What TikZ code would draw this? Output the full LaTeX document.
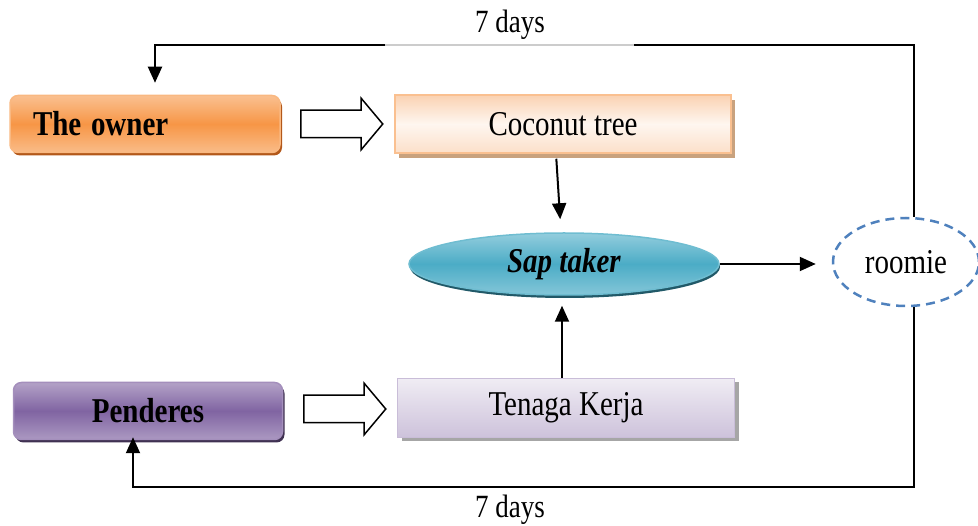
\documentclass[tikz,border=0pt]{standalone}
\usepackage{fontspec}
\setmainfont{Liberation Serif}
\usetikzlibrary{arrows.meta, shapes.geometric, shapes.arrows, shadows}

\definecolor{ownermid}{HTML}{F79646}
\definecolor{ownerlight}{HTML}{FAC090}
\definecolor{ownershadow}{HTML}{B3581A}
\definecolor{cocoedge}{HTML}{FAC090}
\definecolor{cocotop}{HTML}{FAD2B2}
\definecolor{cocoshadow}{HTML}{C9A27E}
\definecolor{sapmid}{HTML}{4BACC6}
\definecolor{saplight}{HTML}{93CDDD}
\definecolor{sapshadow}{HTML}{215968}
\definecolor{pendmid}{HTML}{8064A2}
\definecolor{pendlight}{HTML}{B3A2C7}
\definecolor{pendshadow}{HTML}{403152}
\definecolor{tenagaedge}{HTML}{B2A1C7}
\definecolor{tenagashadow}{HTML}{A6A6A6}
\definecolor{roomieblue}{HTML}{4F81BD}

% taller letters, as in the drawing
\newcommand{\tallText}[1]{\scalebox{1}[1.2]{#1}}

\begin{document}
\begin{tikzpicture}[x=1pt, y=-1pt,
    font=\fontsize{29}{33}\selectfont,
    plain/.style={line width=2pt},
    link/.style={line width=2pt, -{Triangle[length=16pt,width=14pt]}},
    hollow/.style={single arrow, draw, line width=1.5pt, fill=white,
        minimum height=82pt, minimum width=50pt, inner sep=13pt,
        single arrow head extend=12pt, single arrow tip angle=100},
    roundbox/.style={rounded corners=8pt, minimum height=57pt, line width=1.5pt},
    flatbox/.style={minimum height=58pt, line width=1.5pt}]

    % outline of the picture
    \useasboundingbox (0,0) rectangle (978,526);

    % boxes
    \node[roundbox, minimum width=270pt, text width=224pt, align=left, inner xsep=23pt,
        draw=ownerlight!80!ownermid, top color=ownerlight, bottom color=ownerlight!90!ownermid, middle color=ownermid,
        drop shadow={shadow xshift=2pt, shadow yshift=-3pt, fill=ownershadow, opacity=1}]
        (owner) at (145,124) {\tallText{\textbf{The owner}}};
    \node[flatbox, minimum width=336pt, draw=cocoedge,
        top color=cocotop, bottom color=cocotop!70!white, middle color=cocotop!20!white,
        drop shadow={shadow xshift=4pt, shadow yshift=-5pt, fill=cocoshadow, opacity=1}]
        (coco) at (563,124) {\tallText{Coconut tree}};
    \node[ellipse, minimum width=310pt, minimum height=62pt, line width=1.5pt, draw=sapmid!80!white,
        top color=saplight, bottom color=saplight!80!sapmid, middle color=sapmid,
        drop shadow={shadow xshift=1pt, shadow yshift=-3pt, fill=sapshadow, opacity=1}]
        (sap) at (564,264) {\tallText{\textbf{\textit{Sap taker}}}};
    \node[ellipse, minimum width=146pt, minimum height=88pt, draw=roomieblue, line width=2.5pt,
        dash pattern=on 9pt off 6pt]
        (roomie) at (906,262) {\tallText{roomie}};
    \node[roundbox, minimum width=269pt, draw=pendlight!70!pendmid,
        top color=pendlight, bottom color=pendlight!85!pendmid, middle color=pendmid,
        drop shadow={shadow xshift=2pt, shadow yshift=-3pt, fill=pendshadow, opacity=1}]
        (pend) at (148,411) {\tallText{\textbf{Penderes}}};
    \node[flatbox, minimum width=337pt, minimum height=59pt, draw=tenagaedge!70!white,
        top color=tenagaedge!20!white, bottom color=tenagaedge!65!white,
        drop shadow={shadow xshift=4pt, shadow yshift=-4pt, fill=tenagashadow, opacity=1}]
        (tenaga) at (566,408) {\tallText{Tenaga Kerja}};

    % hollow arrows
    \node[hollow] (flowA) at (336,124) {};
    \node[hollow] (flowB) at (339,409) {};

    % arrows into and out of the sap taker
    \draw[link, shorten <=5pt, shorten >=13pt] ([xshift=-7pt]coco.south) -- ([xshift=-3pt]sap.north);
    \draw[link, shorten >=10pt] ([xshift=-4pt]tenaga.north) -- ([xshift=-2pt]sap.south);
    \draw[link, shorten >=16pt] (sap.east) -- (sap.east -| roomie.west);

    % top loop
    \coordinate (topR) at (914,45);
    \coordinate (topL) at (155,45);
    \coordinate (gapR) at (634,45);
    \coordinate (gapL) at (385,45);
    \draw[plain] (topR |- roomie.north) -- (topR) -- (gapR);
    \draw[black!20, line width=1.5pt] (gapR) -- (gapL);
    \draw[link, shorten >=12pt] (gapL) -- (topL) -- (topL |- owner.north);
    \node (daysTop) at (510,25) {\tallText{\fontsize{27}{30}\selectfont 7 days}};

    % bottom loop
    \coordinate (botR) at (914,487);
    \coordinate (botL) at (133,487);
    \draw[link, shorten >=-3pt] (botR |- roomie.south) -- (botR) -- (botL) -- (botL |- pend.south);
    \node (daysBot) at (510,510) {\tallText{\fontsize{27}{30}\selectfont 7 days}};
\end{tikzpicture}
\end{document}
